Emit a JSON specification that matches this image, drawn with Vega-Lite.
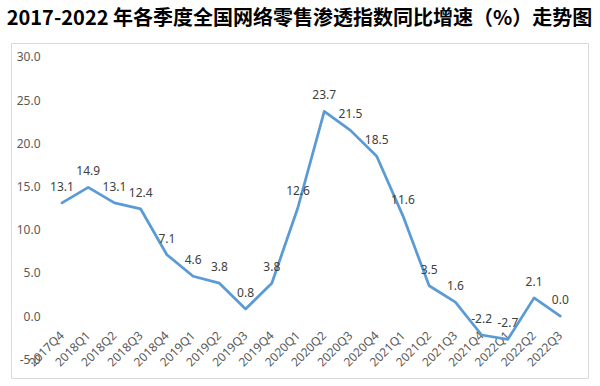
{
  "$schema": "https://vega.github.io/schema/vega-lite/v6.json",
  "width": 577,
  "height": 335,
  "autosize": {"type": "none"},
  "padding": {"left": 11, "top": 43, "right": 12, "bottom": 8},
  "background": "#ffffff",
  "title": {
    "text": "2017-2022 年各季度全国网络零售渗透指数同比增速（%）走势图",
    "font": "Noto Sans CJK SC",
    "fontSize": 20,
    "fontWeight": "bold",
    "color": "#000000",
    "anchor": "middle",
    "offset": 14
  },
  "config": {
    "view": {"stroke": "#d9d9d9", "strokeWidth": 1},
    "locale": {"number": {"decimal": ".", "thousands": ",", "grouping": [3], "currency": ["", ""], "minus": "-"}}
  },
  "data": {
    "values": [
      {"q": "2017Q4", "v": 13.1},
      {"q": "2018Q1", "v": 14.9},
      {"q": "2018Q2", "v": 13.1},
      {"q": "2018Q3", "v": 12.4},
      {"q": "2018Q4", "v": 7.1},
      {"q": "2019Q1", "v": 4.6},
      {"q": "2019Q2", "v": 3.8},
      {"q": "2019Q3", "v": 0.8},
      {"q": "2019Q4", "v": 3.8},
      {"q": "2020Q1", "v": 12.6},
      {"q": "2020Q2", "v": 23.7},
      {"q": "2020Q3", "v": 21.5},
      {"q": "2020Q4", "v": 18.5},
      {"q": "2021Q1", "v": 11.6},
      {"q": "2021Q2", "v": 3.5},
      {"q": "2021Q3", "v": 1.6},
      {"q": "2021Q4", "v": -2.2},
      {"q": "2022Q1", "v": -2.7},
      {"q": "2022Q2", "v": 2.1},
      {"q": "2022Q3", "v": 0.0}
    ]
  },
  "encoding": {
    "x": {
      "field": "q",
      "type": "ordinal",
      "sort": null,
      "scale": {"type": "band", "paddingInner": 0, "paddingOuter": 1.032, "align": 0.722},
      "axis": {
        "title": null,
        "orient": "bottom",
        "offset": -62,
        "domain": false,
        "ticks": false,
        "grid": false,
        "labelAngle": -45,
        "labelAlign": "right",
        "labelBaseline": "middle",
        "labelPadding": 17,
        "labelFont": "Noto Sans",
        "labelFontSize": 12,
        "labelColor": "#595959"
      }
    },
    "y": {
      "field": "v",
      "type": "quantitative",
      "scale": {"domain": [-7.18, 31.62], "nice": false, "zero": false},
      "axis": {
        "title": null,
        "values": [-5, 0, 5, 10, 15, 20, 25, 30],
        "format": ".1f",
        "offset": -29,
        "domain": false,
        "ticks": false,
        "grid": false,
        "labelPadding": 0,
        "labelFont": "Noto Sans",
        "labelFontSize": 12,
        "labelColor": "#595959"
      }
    }
  },
  "layer": [
    {
      "data": {"values": [{"a": "2017Q4", "b": "2022Q3"}]},
      "mark": {"type": "rule", "color": "#d9d9d9", "strokeWidth": 1},
      "encoding": {
        "x": {"field": "a", "type": "ordinal", "bandPosition": 0},
        "x2": {"field": "b", "bandPosition": 1},
        "y": {"datum": 0}
      }
    },
    {
      "mark": {"type": "line", "color": "#5b9bd5", "strokeWidth": 2.75, "strokeJoin": "round", "strokeCap": "round"}
    },
    {
      "mark": {"type": "text", "dy": -16, "font": "Noto Sans", "fontSize": 12, "color": "#404040"},
      "encoding": {
        "text": {"field": "v", "type": "quantitative", "format": ".1f"}
      }
    }
  ]
}
